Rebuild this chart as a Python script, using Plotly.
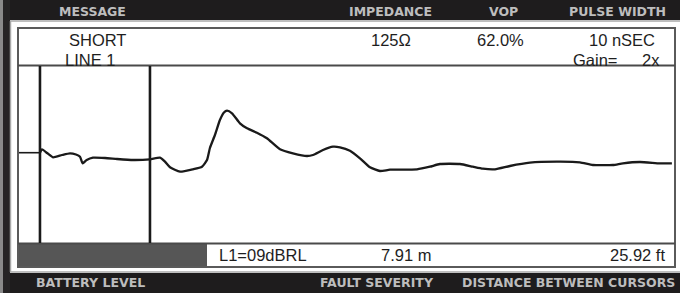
import plotly.graph_objects as go

# ---------------- data ----------------
# TDR trace: distance (m) vs. reflected amplitude (arbitrary units)
lead_dist = [0.07, 1.58]
lead_amp = [0.0, 0.0]

trace_dist = [1.58, 1.73, 2.09, 2.52, 3.16, 3.74, 4.17, 4.46, 4.65, 4.94, 5.39, 6.26,
              7.12, 8.27, 9.49, 10.21, 10.57, 10.93, 11.65, 12.58, 13.23, 13.59, 13.80,
              14.16, 14.52, 14.81, 15.03, 15.39, 15.96, 16.47, 17.18, 17.90, 18.84,
              19.77, 20.78, 21.21, 21.93, 22.65, 23.15, 23.87, 24.59, 25.31, 26.03,
              26.75, 28.69, 29.62, 30.34, 31.78, 32.71, 33.43, 34.30, 35.37, 36.81,
              38.75, 40.41, 41.34, 42.78, 43.50, 44.72, 46.16, 47.02]
trace_amp = [0.00, 0.34, -0.03, -0.46, -0.23, -0.06, -0.18, -0.40, -1.06, -0.73, -0.50, -0.53,
             -0.63, -0.73, -0.66, -0.50, -0.90, -1.46, -1.90, -1.66, -1.40, -0.73, 0.47,
             1.77, 3.27, 4.02, 4.20, 3.94, 2.94, 2.44, 2.00, 1.44, 0.34,
             -0.06, -0.33, -0.23, 0.27, 0.60, 0.54, 0.20, -0.56, -1.46, -1.83,
             -1.70, -1.66, -1.40, -1.13, -1.13, -1.40, -1.60, -1.66, -1.33, -1.00,
             -0.90, -0.96, -1.23, -1.23, -1.06, -0.93, -1.06, -1.06]

cursor_positions = [1.58, 9.49]   # m ; distance between = 7.91 m

header_labels = ["MESSAGE", "IMPEDANCE", "VOP", "PULSE WIDTH"]
footer_labels = ["BATTERY LEVEL", "FAULT SEVERITY", "DISTANCE BETWEEN CURSORS"]
message_text = ["SHORT", "LINE 1"]
impedance_text = "125\u03a9"
vop_text = "62.0%"
pulse_text = "10 nSEC"
gain_text = ["Gain=", "2x"]
severity_text = "L1=09dBRL"
distance_m_text = "7.91 m"
distance_ft_text = "25.92 ft"

# ---------------- layout helpers ----------------
W, H = 680, 293


def px(x):
    return x / W


def py(y):
    return 1 - y / H


fig = go.Figure()

fig.add_trace(go.Scatter(x=lead_dist, y=lead_amp, mode="lines",
                         line=dict(color="#1a1a1a", width=1.6),
                         hoverinfo="skip", showlegend=False))
fig.add_trace(go.Scatter(x=trace_dist, y=trace_amp, mode="lines",
                         line=dict(color="#1a1a1a", width=2.3, shape="spline", smoothing=0.5),
                         hoverinfo="skip", showlegend=False))

shapes = []
# top and bottom black bars
shapes.append(dict(type="rect", xref="paper", yref="paper", x0=px(0), x1=px(680),
                   y0=py(20), y1=py(0), fillcolor="#1e1c1d", line_width=0, layer="below"))
shapes.append(dict(type="rect", xref="paper", yref="paper", x0=px(0), x1=px(680),
                   y0=py(293), y1=py(273), fillcolor="#1e1c1d", line_width=0, layer="below"))
# left dark stripe
shapes.append(dict(type="rect", xref="paper", yref="paper", x0=px(0), x1=px(3),
                   y0=py(293), y1=py(0), fillcolor="#8a8a8a", line_width=0, layer="below"))
shapes.append(dict(type="rect", xref="paper", yref="paper", x0=px(3), x1=px(10),
                   y0=py(293), y1=py(0), fillcolor="#262425", line_width=0, layer="below"))
# gray edge around the white panel
shapes.append(dict(type="line", xref="paper", yref="paper", x0=px(10), x1=px(680),
                   y0=py(21), y1=py(21), line=dict(color="#a8a8a8", width=1.5)))
shapes.append(dict(type="line", xref="paper", yref="paper", x0=px(10), x1=px(680),
                   y0=py(272), y1=py(272), line=dict(color="#a8a8a8", width=1.5)))
shapes.append(dict(type="line", xref="paper", yref="paper", x0=px(10.5), x1=px(10.5),
                   y0=py(272), y1=py(21), line=dict(color="#a8a8a8", width=1.5)))
# battery bar
shapes.append(dict(type="rect", xref="paper", yref="paper", x0=px(18), x1=px(207),
                   y0=py(267), y1=py(244), fillcolor="#565656", line_width=0))
# inner box
shapes.append(dict(type="rect", xref="paper", yref="paper", x0=px(18), x1=px(675),
                   y0=py(267), y1=py(28), line=dict(color="#5a5a5a", width=2),
                   fillcolor="rgba(0,0,0,0)"))
# separators
shapes.append(dict(type="line", xref="paper", yref="paper", x0=px(18), x1=px(675),
                   y0=py(65.5), y1=py(65.5), line=dict(color="#4a4a4a", width=2)))
shapes.append(dict(type="line", xref="paper", yref="paper", x0=px(18), x1=px(675),
                   y0=py(243.5), y1=py(243.5), line=dict(color="#4a4a4a", width=2)))
# cursors
for c in cursor_positions:
    shapes.append(dict(type="line", xref="x", yref="y domain", x0=c, x1=c, y0=0, y1=1,
                       line=dict(color="#1a1a1a", width=2.6)))

annotations = []
lab_font = dict(family="DejaVu Sans", size=12.5, color="#bdbdbd")


def label(text, x, y, anchor="center", font=None, align="center"):
    annotations.append(dict(text=text, xref="paper", yref="paper", x=px(x), y=py(y),
                            xanchor=anchor, yanchor="middle", showarrow=False,
                            align=align, borderpad=0, font=font or lab_font))


for t, x in zip(header_labels, [92, 391, 503, 617]):
    label("<b>%s</b>" % t, x, 11)
for t, x in zip(footer_labels, [90, 377, 568]):
    label("<b>%s</b>" % t, x, 282.5)

txt_font = dict(family="Liberation Sans", size=16.5, color="#1e1e1e")
label(message_text[0], 68, 40.5, anchor="left", font=txt_font)
label(message_text[1], 64, 59.5, anchor="left", font=txt_font)
label(impedance_text, 391, 40.5, font=txt_font)
label(vop_text, 500, 40.5, font=txt_font)
label(pulse_text, 656, 40.5, anchor="right", font=txt_font)
label(gain_text[0], 572, 59.5, anchor="left", font=txt_font)
label(gain_text[1], 661, 59.5, anchor="right", font=txt_font)
label(severity_text, 218, 255, anchor="left", font=txt_font)
label(distance_m_text, 406, 255, font=txt_font)
label(distance_ft_text, 666, 255, anchor="right", font=txt_font)

M_PER_PX = 7.91 / 110
fig.update_layout(
    width=W, height=H, margin=dict(l=0, r=0, t=0, b=0),
    paper_bgcolor="white", plot_bgcolor="white",
    xaxis=dict(domain=[px(18), px(675)], range=[0, (675 - 18) * M_PER_PX],
               showgrid=False, zeroline=False, showticklabels=False, visible=False),
    yaxis=dict(domain=[py(243), py(66)], range=[(152.7 - 243) / 10, (152.7 - 66) / 10],
               showgrid=False, zeroline=False, showticklabels=False, visible=False),
    shapes=shapes, annotations=annotations, showlegend=False,
)

fig.write_html("out.html", config={"displayModeBar": False, "staticPlot": True},
               post_script="document.body.style.margin='0px';document.body.style.overflow='hidden';")
